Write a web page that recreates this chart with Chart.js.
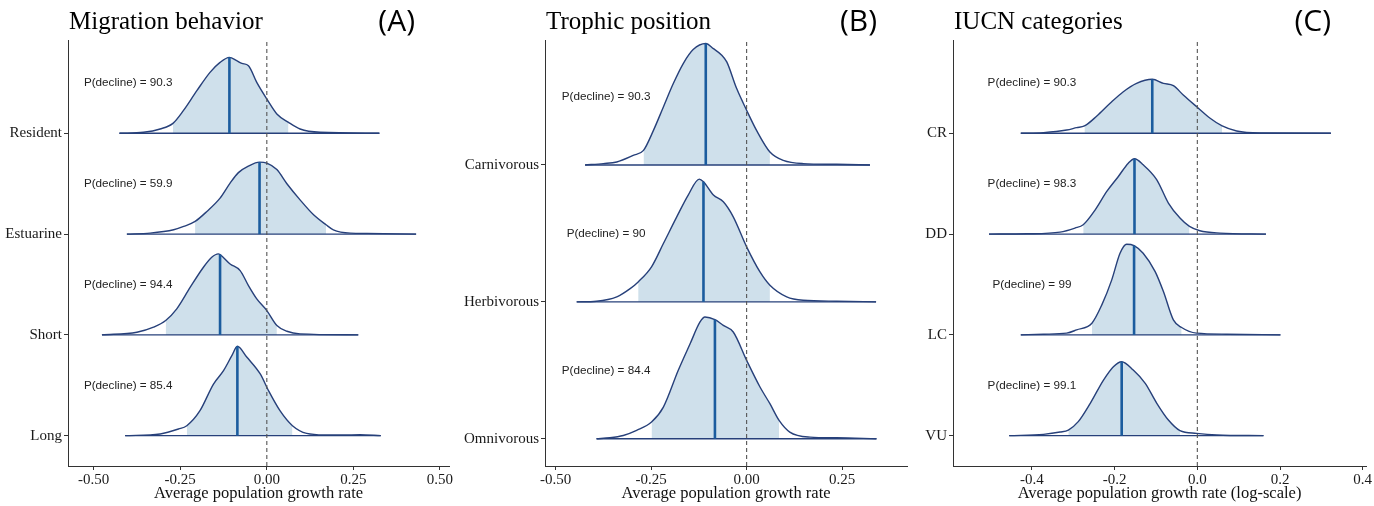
<!DOCTYPE html>
<html>
<head>
<meta charset="utf-8">
<script src="https://cdn.jsdelivr.net/npm/chart.js@4.4.1/dist/chart.umd.min.js"></script>
<style>
  html, body { margin: 0; padding: 0; background: #fff; }
  #wrap { position: relative; width: 1374px; height: 506px; overflow: hidden; }
  .panel { position: absolute; top: 0; height: 506px; }
</style>
</head>
<body>
<div id="wrap">
  <div class="panel" style="left:0; width:460px;"><canvas id="chartA"></canvas></div>
  <div class="panel" style="left:460px; width:455px;"><canvas id="chartB"></canvas></div>
  <div class="panel" style="left:915px; width:459px;"><canvas id="chartC"></canvas></div>
</div>
<script>
// ---------- (A) Migration behavior, rows listed bottom to top ----------
const migrationCategories = ['Long', 'Short', 'Estuarine', 'Resident'];
const migrationPDecline = [85.4, 94.4, 59.9, 90.3];
const migrationMedian = [-0.085, -0.135, -0.021, -0.108];
const migrationMedianH = [0.887, 0.797, 0.714, 0.754];
const migrationCiLow = [-0.231, -0.292, -0.207, -0.271];
const migrationCiHigh = [0.074, 0.029, 0.171, 0.0625];
const migrationDensityX = [
  [-0.409, -0.308, -0.255, -0.231, -0.193, -0.154, -0.125, -0.101, -0.085, -0.058, -0.019, 0.005, 0.038, 0.074, 0.115, 0.173, 0.22, 0.269, 0.329],
  [-0.476, -0.375, -0.327, -0.292, -0.26, -0.221, -0.183, -0.159, -0.14, -0.135, -0.106, -0.077, -0.053, -0.029, 0, 0.029, 0.058, 0.096, 0.264],
  [-0.404, -0.337, -0.269, -0.24, -0.207, -0.173, -0.135, -0.106, -0.082, -0.053, -0.021, 0, 0.029, 0.058, 0.096, 0.135, 0.171, 0.192, 0.241, 0.289, 0.431],
  [-0.4255, -0.356, -0.308, -0.271, -0.241, -0.202, -0.164, -0.135, -0.108, -0.087, -0.072, -0.053, -0.029, 0, 0.029, 0.0625, 0.096, 0.154, 0.325]
];
const migrationDensityH = [
  [0, 0.017, 0.066, 0.099, 0.248, 0.512, 0.645, 0.794, 0.887, 0.78, 0.612, 0.446, 0.248, 0.099, 0.023, 0.007, 0.006, 0.01, 0],
  [0, 0.026, 0.076, 0.142, 0.258, 0.473, 0.671, 0.77, 0.804, 0.797, 0.704, 0.638, 0.489, 0.357, 0.241, 0.093, 0.036, 0.01, 0],
  [0, 0.01, 0.043, 0.076, 0.126, 0.225, 0.357, 0.506, 0.61, 0.675, 0.714, 0.705, 0.64, 0.5, 0.34, 0.192, 0.093, 0.043, 0.01, 0.007, 0],
  [0, 0.01, 0.043, 0.099, 0.225, 0.423, 0.605, 0.704, 0.754, 0.721, 0.694, 0.671, 0.506, 0.341, 0.192, 0.109, 0.043, 0.01, 0]
];
const migrationTicks = [-0.5, -0.25, 0, 0.25, 0.5];

// ---------- (B) Trophic position ----------
const trophicCategories = ['Omnivorous', 'Herbivorous', 'Carnivorous'];
const trophicPDecline = [84.4, 90, 90.3];
const trophicMedian = [-0.083, -0.113, -0.107];
const trophicMedianH = [0.87, 0.877, 0.887];
const trophicCiLow = [-0.249, -0.284, -0.27];
const trophicCiHigh = [0.085, 0.061, 0.061];
const trophicDensityX = [
  [-0.393, -0.358, -0.323, -0.288, -0.249, -0.218, -0.179, -0.148, -0.122, -0.109, -0.083, -0.061, -0.035, 0, 0.035, 0.061, 0.085, 0.113, 0.166, 0.236, 0.34],
  [-0.445, -0.393, -0.34, -0.305, -0.284, -0.249, -0.218, -0.183, -0.153, -0.124, -0.113, -0.087, -0.061, -0.035, 0, 0.035, 0.061, 0.105, 0.148, 0.236, 0.339],
  [-0.423, -0.375, -0.34, -0.297, -0.27, -0.244, -0.218, -0.192, -0.166, -0.14, -0.107, -0.087, -0.065, -0.052, -0.026, 0, 0.026, 0.061, 0.096, 0.148, 0.236, 0.323]
];
const trophicDensityH = [
  [0, 0.007, 0.024, 0.061, 0.122, 0.231, 0.5, 0.694, 0.853, 0.889, 0.87, 0.828, 0.78, 0.573, 0.378, 0.256, 0.134, 0.049, 0.012, 0.007, 0],
  [0, 0.005, 0.037, 0.097, 0.146, 0.256, 0.426, 0.621, 0.78, 0.897, 0.877, 0.78, 0.731, 0.621, 0.402, 0.219, 0.122, 0.037, 0.012, 0.005, 0],
  [0, 0.01, 0.022, 0.07, 0.107, 0.253, 0.424, 0.595, 0.741, 0.843, 0.887, 0.85, 0.802, 0.753, 0.558, 0.4, 0.253, 0.095, 0.034, 0.01, 0.005, 0]
];
const trophicTicks = [-0.5, -0.25, 0, 0.25];

// ---------- (C) IUCN categories ----------
const iucnCategories = ['VU', 'LC', 'DD', 'CR'];
const iucnPDecline = [99.1, 99, 98.3, 90.3];
const iucnMedian = [-0.183, -0.153, -0.152, -0.109];
const iucnMedianH = [0.734, 0.886, 0.747, 0.536];
const iucnCiLow = [-0.312, -0.255, -0.276, -0.273];
const iucnCiHigh = [-0.042, -0.038, -0.019, 0.06];
const iucnDensityX = [
  [-0.455, -0.372, -0.332, -0.312, -0.288, -0.259, -0.227, -0.203, -0.183, -0.155, -0.126, -0.098, -0.07, -0.042, -0.002, 0.047, 0.16],
  [-0.427, -0.372, -0.316, -0.292, -0.255, -0.231, -0.207, -0.187, -0.171, -0.153, -0.131, -0.102, -0.082, -0.058, -0.038, -0.002, 0.071, 0.201],
  [-0.504, -0.412, -0.332, -0.296, -0.276, -0.247, -0.219, -0.191, -0.167, -0.152, -0.131, -0.098, -0.07, -0.042, -0.019, 0.006, 0.055, 0.166],
  [-0.427, -0.372, -0.316, -0.292, -0.273, -0.243, -0.211, -0.179, -0.147, -0.109, -0.082, -0.058, -0.034, 0, 0.031, 0.06, 0.095, 0.151, 0.323]
];
const iucnDensityH = [
  [0, 0.013, 0.036, 0.056, 0.139, 0.321, 0.552, 0.685, 0.734, 0.651, 0.519, 0.321, 0.155, 0.05, 0.023, 0.007, 0],
  [0, 0.007, 0.017, 0.05, 0.116, 0.298, 0.546, 0.81, 0.9, 0.886, 0.81, 0.628, 0.43, 0.149, 0.073, 0.017, 0.007, 0],
  [0, 0.003, 0.02, 0.06, 0.093, 0.241, 0.423, 0.572, 0.704, 0.747, 0.688, 0.539, 0.308, 0.159, 0.076, 0.033, 0.01, 0],
  [0, 0.007, 0.033, 0.056, 0.073, 0.172, 0.298, 0.413, 0.496, 0.536, 0.496, 0.473, 0.38, 0.258, 0.149, 0.073, 0.023, 0.003, 0]
];
const iucnTicks = [-0.4, -0.2, 0, 0.2, 0.4];

// ---------- shared styling ----------
const FILL = '#cfe0eb';
const OUTLINE = '#27407a';
const MEDIAN = '#1b5c9e';
const AXIS = '#333333';
const SERIF = '"Liberation Serif", "Times New Roman", serif';

// Panel titles, "P(decline)" labels and the panel tag
const ridgeText = {
  id: 'ridgeText',
  afterDatasetsDraw(chart, args, opts) {
    const { ctx, chartArea, scales: { x, y } } = chart;
    ctx.save();
    ctx.fillStyle = '#222';
    ctx.font = '11.7px "Liberation Sans", Arial, sans-serif';
    ctx.textAlign = 'center';
    ctx.textBaseline = 'middle';
    opts.pDecline.forEach((p, i) => {
      ctx.fillText('P(decline) = ' + p, x.getPixelForValue(opts.labelX), y.getPixelForValue(i + 1.5));
    });
    ctx.fillStyle = '#000';
    ctx.textBaseline = 'alphabetic';
    ctx.textAlign = 'left';
    ctx.font = '25px ' + SERIF;
    ctx.fillText(opts.title, chartArea.left + 1, 29);
    ctx.textAlign = 'right';
    ctx.font = '30px "Open Sans", sans-serif';
    ctx.fillText(opts.tag, opts.tagRight, 31);
    ctx.restore();
  }
};

function buildPanel(canvasId, p) {
  const datasets = [];
  p.categories.forEach((cat, i) => {
    const base = i + 1;
    const xs = p.densityX[i];
    const hs = p.densityH[i];
    const curve = xs.map((x, k) => ({ x: x, y: base + hs[k] }));
    const interval = curve.filter(pt => pt.x >= p.ciLow[i] && pt.x <= p.ciHigh[i]);
    datasets.push({
      label: cat + ' interval', data: interval, fill: { value: base },
      backgroundColor: FILL, borderColor: 'rgba(0,0,0,0)', borderWidth: 0,
      pointRadius: 0, cubicInterpolationMode: 'monotone', order: 5
    });
    datasets.push({
      label: cat + ' baseline', data: [{ x: xs[0], y: base }, { x: xs[xs.length - 1], y: base }],
      borderColor: OUTLINE, borderWidth: 1.4, pointRadius: 0, fill: false, order: 3
    });
    datasets.push({
      label: cat, data: curve, borderColor: OUTLINE, borderWidth: 1.4,
      pointRadius: 0, fill: false, cubicInterpolationMode: 'monotone', order: 2
    });
    datasets.push({
      label: cat + ' median', data: [{ x: p.median[i], y: base }, { x: p.median[i], y: base + p.medianH[i] }],
      borderColor: MEDIAN, borderWidth: 2.6, pointRadius: 0, fill: false, order: 1
    });
  });
  datasets.push({
    label: 'zero', data: [{ x: 0, y: p.yMin }, { x: 0, y: p.yMax }],
    borderColor: '#555', borderWidth: 1.1, borderDash: [4, 3], pointRadius: 0, fill: false, order: 0
  });

  new Chart(document.getElementById(canvasId), {
    type: 'line',
    data: { datasets: datasets },
    plugins: [ridgeText],
    options: {
      responsive: true,
      maintainAspectRatio: false,
      animation: false,
      events: [],
      layout: { padding: { top: 40, right: p.padRight, left: 0, bottom: 0 } },
      plugins: {
        legend: { display: false },
        tooltip: { enabled: false },
        ridgeText: { pDecline: p.pDecline, labelX: p.labelX, title: p.title, tag: p.tag, tagRight: p.tagRight }
      },
      scales: {
        x: {
          type: 'linear', min: p.xMin, max: p.xMax,
          afterBuildTicks: s => { s.ticks = p.ticks.map(v => ({ value: v })); },
          afterFit: s => { s.height = 40; },
          ticks: {
            autoSkip: false, maxRotation: 0, padding: 1, color: '#1a1a1a',
            font: { family: SERIF, size: 15 },
            callback: v => v.toFixed(p.decimals)
          },
          grid: { display: true, drawOnChartArea: false, drawTicks: true, tickLength: 4, color: AXIS },
          border: { display: true, color: AXIS, width: 1 },
          title: {
            display: true, text: p.xTitle, color: '#111',
            font: { family: SERIF, size: 16.5 }, padding: { top: 0, bottom: 2 }
          }
        },
        y: {
          type: 'linear', min: p.yMin, max: p.yMax,
          afterBuildTicks: s => { s.ticks = p.categories.map((c, i) => ({ value: i + 1 })); },
          afterFit: s => { s.width = p.yAxisWidth; },
          ticks: {
            autoSkip: false, padding: 2, color: '#1a1a1a',
            font: { family: SERIF, size: 15 },
            callback: (v, idx) => p.categories[idx]
          },
          grid: { display: true, drawOnChartArea: false, drawTicks: true, tickLength: 4, color: AXIS },
          border: { display: true, color: AXIS, width: 1 }
        }
      }
    }
  });
}

buildPanel('chartA', {
  categories: migrationCategories, pDecline: migrationPDecline,
  median: migrationMedian, medianH: migrationMedianH,
  ciLow: migrationCiLow, ciHigh: migrationCiHigh,
  densityX: migrationDensityX, densityH: migrationDensityH,
  ticks: migrationTicks, decimals: 2,
  xMin: -0.574, xMax: 0.526, yMin: 0.699, yMax: 4.926,
  yAxisWidth: 68, padRight: 11, labelX: -0.40,
  title: 'Migration behavior', tag: '(A)', tagRight: 415,
  xTitle: 'Average population growth rate'
});

buildPanel('chartB', {
  categories: trophicCategories, pDecline: trophicPDecline,
  median: trophicMedian, medianH: trophicMedianH,
  ciLow: trophicCiLow, ciHigh: trophicCiHigh,
  densityX: trophicDensityX, densityH: trophicDensityH,
  ticks: trophicTicks, decimals: 2,
  xMin: -0.528, xMax: 0.42, yMin: 0.801, yMax: 3.913,
  yAxisWidth: 85, padRight: 8, labelX: -0.368,
  title: 'Trophic position', tag: '(B)', tagRight: 417,
  xTitle: 'Average population growth rate'
});

buildPanel('chartC', {
  categories: iucnCategories, pDecline: iucnPDecline,
  median: iucnMedian, medianH: iucnMedianH,
  ciLow: iucnCiLow, ciHigh: iucnCiHigh,
  densityX: iucnDensityX, densityH: iucnDensityH,
  ticks: iucnTicks, decimals: 1,
  xMin: -0.591, xMax: 0.408, yMin: 0.699, yMax: 4.926,
  yAxisWidth: 38, padRight: 8, labelX: -0.40,
  title: 'IUCN categories', tag: '(C)', tagRight: 416,
  xTitle: 'Average population growth rate (log-scale)'
});
</script>
</body>
</html>
